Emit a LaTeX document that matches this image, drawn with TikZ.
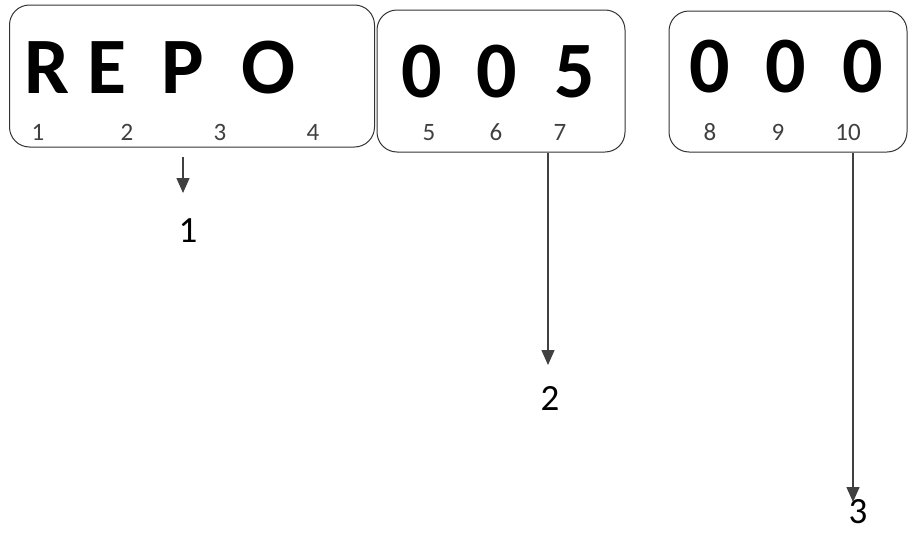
\documentclass[tikz,border=0pt]{standalone}
\usepackage{fontspec}
\setmainfont{Carlito}
\usetikzlibrary{arrows.meta}
\begin{document}
\begin{tikzpicture}[x=1pt,y=-1pt,
	field/.style={draw=black!80,line width=1pt,rounded corners=20pt,inner sep=0pt},
	glyph/.style={anchor=base,inner sep=0pt,font=\fontsize{80}{80}\selectfont\bfseries},
	place/.style={anchor=base,inner sep=0pt,font=\fontsize{25}{25}\selectfont,text=black!75},
	part/.style={anchor=base,inner sep=0pt,font=\fontsize{37}{37}\selectfont},
	pointer/.style={-{Triangle[width=13pt,length=15pt]},line width=1.4pt,draw=black!75}]
	\useasboundingbox (0,0) rectangle (908,533);
	% the three fields
	\node[field,minimum width=365,minimum height=142] (repo) at (192,76) {};
	\node[field,minimum width=248,minimum height=142] (year) at (501,81) {};
	\node[field,minimum width=238,minimum height=141] (num) at (788,81.5) {};
	% characters
	\foreach \x/\c/\n in {47/R/r, 107/E/e, 183/P/p, 269/O/o}
	\node[glyph] (g\n) at (\x,93) {\c};
	\foreach \x/\c/\n in {422/0/a, 497/0/b, 575/5/c}
	\node[glyph] (g\n) at (\x,97) {\c};
	\foreach \x/\c/\n in {710/0/d, 786/0/f, 863/0/h}
	\node[glyph] (g\n) at (\x,92) {\c};
	% positions
	\foreach \x/\i in {38/1, 127/2, 220/3, 313/4, 429/5, 496/6, 560/7, 710/8, 778/9, 848/10}
	\node[place] (p\i) at (\x,140) {\i};
	% parts
	\node[part] (part1) at (188,242) {1};
	\node[part] (part2) at (550,410) {2};
	\node[part] (part3) at (858,523) {3};
	\coordinate (s1) at (183,157);
	\coordinate (e1) at (183,193);
	\coordinate (s2) at (year.south -| 548,0);
	\coordinate (e2) at (548,365);
	\coordinate (s3) at (num.south -| 853,0);
	\coordinate (e3) at (853,502);
	\draw[pointer] (s1) -- (e1);
	\draw[pointer] (s2) -- (e2);
	\draw[pointer] (s3) -- (e3);
\end{tikzpicture}
\end{document}
